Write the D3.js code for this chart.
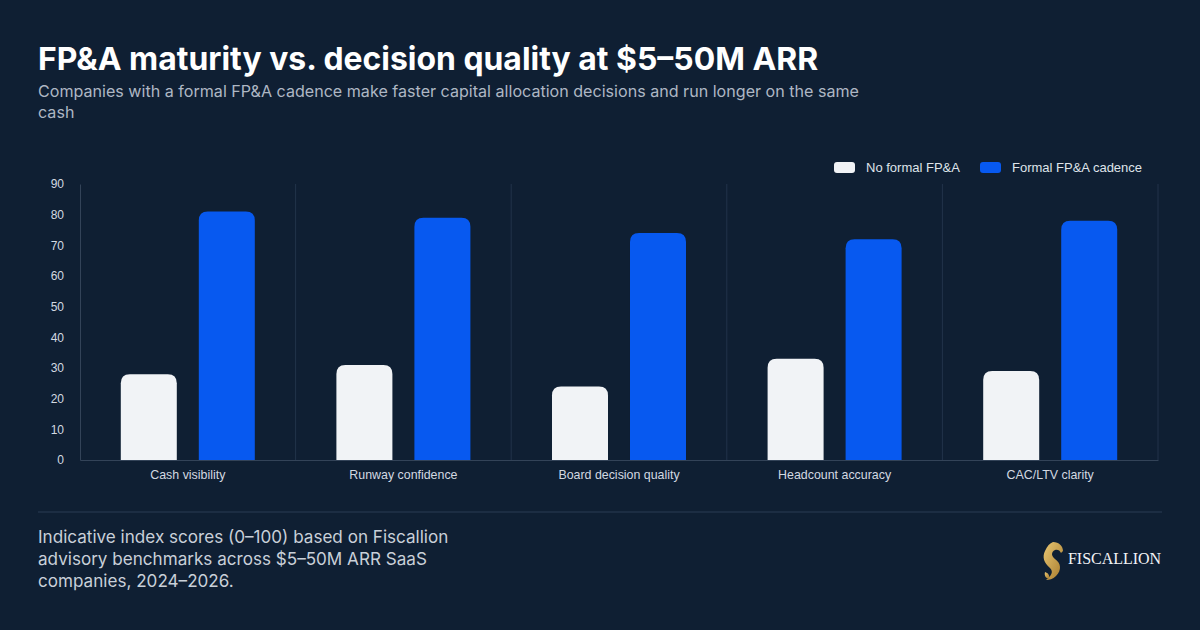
<!DOCTYPE html>
<html>
<head>
<meta charset="utf-8">
<script src="https://cdn.jsdelivr.net/npm/d3@7"></script>
<style>
  html, body { margin: 0; padding: 0; background: #0f1f33; }
  svg { display: block; }
</style>
</head>
<body>
<div class="chart"></div>
<script>
var width = 1200;
var height = 630;
var margin = { top: 184, left: 80, right: 42, bottom: 170 };

var categories = ["Cash visibility", "Runway confidence", "Board decision quality", "Headcount accuracy", "CAC/LTV clarity"];
var seriesNames = ["No formal FP&A", "Formal FP&A cadence"];
var noFormal = [28, 31, 24, 33, 29];
var formal = [81, 79, 74, 72, 78];
var yTicks = [0, 10, 20, 30, 40, 50, 60, 70, 80, 90];
var colors = ["#f1f3f6", "#0759f0"];

var svg = d3.select(".chart")
    .append("svg")
    .attr("width", width)
    .attr("height", height);

svg.append("rect").attr("width", width).attr("height", height).attr("fill", "#0f1f33");

// title + subtitle
svg.append("text")
    .attr("x", 38).attr("y", 70)
    .attr("fill", "#ffffff")
    .style("font", "700 31.9px Inter")
    .text("FP&A maturity vs. decision quality at $5–50M ARR");

var sub = svg.append("text")
    .attr("x", 38).attr("y", 97)
    .attr("fill", "#aeb7c4")
    .style("font", "400 16.1px Inter");
sub.append("tspan").attr("x", 38).text("Companies with a formal FP&A cadence make faster capital allocation decisions and run longer on the same");
sub.append("tspan").attr("x", 38).attr("dy", 21).text("cash");

var x0 = d3.scaleBand()
    .domain(categories)
    .range([margin.left, width - margin.right]);

var x1 = d3.scaleBand()
    .domain(seriesNames)
    .range([0, x0.bandwidth()])
    .paddingInner(0.282)
    .paddingOuter(0.523);

var y = d3.scaleLinear()
    .domain([0, 90])
    .range([height - margin.bottom, margin.top]);

// category separators
svg.append("g").selectAll("line")
    .data(categories.slice(1))
    .enter().append("line")
    .attr("x1", function(d){return x0(d);})
    .attr("x2", function(d){return x0(d);})
    .attr("y1", y(90)).attr("y2", y(0))
    .attr("stroke", "#22334a").attr("stroke-width", 1);
svg.append("line")
    .attr("x1", width - margin.right).attr("x2", width - margin.right)
    .attr("y1", y(90)).attr("y2", y(0))
    .attr("stroke", "#22334a");

// y axis
var yAxis = svg.append("g")
    .attr("transform", `translate(${margin.left},0)`)
    .call(d3.axisLeft(y).tickValues(yTicks).tickSize(0).tickPadding(16));
yAxis.select(".domain").attr("stroke", "#334358");
yAxis.selectAll("text")
    .attr("fill", "#d3d9e1")
    .style("font", "12px 'Liberation Sans', Arial, sans-serif");

// x axis
var xAxis = svg.append("g")
    .attr("transform", `translate(0,${y(0)})`)
    .call(d3.axisBottom(x0).tickSize(0).tickPadding(10));
xAxis.select(".domain").attr("stroke", "#334358");
xAxis.selectAll("text")
    .attr("fill", "#d3d9e1")
    .style("font", "12.4px 'Liberation Sans', Arial, sans-serif");

function topRounded(x, yTop, w, h, r) {
    r = Math.min(r, h, w / 2);
    return "M" + x + "," + (yTop + h) +
        "V" + (yTop + r) +
        "Q" + x + "," + yTop + " " + (x + r) + "," + yTop +
        "H" + (x + w - r) +
        "Q" + (x + w) + "," + yTop + " " + (x + w) + "," + (yTop + r) +
        "V" + (yTop + h) + "Z";
}

var rows = categories.map(function(c, i) {
    return { cat: c, vals: [noFormal[i], formal[i]] };
});

var groups = svg.append("g").selectAll("g")
    .data(rows)
    .enter().append("g")
    .attr("transform", function(d){return `translate(${x0(d.cat)},0)`;});

groups.selectAll("path")
    .data(function(d){return d.vals.map(function(v, j){return {s: seriesNames[j], v: v, j: j};});})
    .enter().append("path")
    .attr("d", function(d){
        return topRounded(x1(d.s), y(d.v), x1.bandwidth(), y(0) - y(d.v), 9);
    })
    .attr("fill", function(d){return colors[d.j];});

// legend
var legendX = [834, 980];
var legend = svg.append("g").selectAll("g")
    .data(seriesNames)
    .enter().append("g")
    .attr("transform", function(d, i){return `translate(${legendX[i]},162)`;});
legend.append("rect")
    .attr("width", 21).attr("height", 11).attr("rx", 3)
    .attr("fill", function(d, i){return colors[i];});
legend.append("text")
    .attr("x", 32).attr("y", 10)
    .attr("fill", "#dfe4ea")
    .style("font", "13px 'Liberation Sans', Arial, sans-serif")
    .text(function(d){return d;});

// footer
svg.append("line")
    .attr("x1", 38).attr("x2", 1162)
    .attr("y1", 512).attr("y2", 512)
    .attr("stroke", "#22334a").attr("stroke-width", 1.5);

var foot = svg.append("text")
    .attr("x", 38).attr("y", 543)
    .attr("fill", "#c9d0d9")
    .style("font", "400 17.1px Inter");
["Indicative index scores (0–100) based on Fiscallion",
 "advisory benchmarks across $5–50M ARR SaaS",
 "companies, 2024–2026."].forEach(function(t, i){
    foot.append("tspan").attr("x", 38).attr("dy", i ? 22 : 0).text(t);
});

// logo
var grad = svg.append("defs").append("linearGradient")
    .attr("id", "gold").attr("x1", 0).attr("y1", 0).attr("x2", 1).attr("y2", 1);
grad.append("stop").attr("offset", "0%").attr("stop-color", "#e9c773");
grad.append("stop").attr("offset", "100%").attr("stop-color", "#a67a2c");

var logo = svg.append("g").attr("transform", "translate(1041,542)");
logo.append("path")
    .attr("d", "M12,0 C18,0 22,4 22,9 L20,11 C19,8 16,7 14,8 C10,10 10,14 14,17 C20,21 21,28 15,34 C12,37 8,38 5,38 C10,34 13,30 9,26 C3,21 1,15 4,9 C6,4 9,1 12,0 Z")
    .attr("fill", "url(#gold)");
logo.append("path")
    .attr("d", "M4,30 C7,31 9,33 8,37 C5,36 3,34 4,30 Z")
    .attr("fill", "url(#gold)");
svg.append("text")
    .attr("x", 1068).attr("y", 564)
    .attr("fill", "#f3f4f6")
    .attr("textLength", 93)
    .style("font", "400 16px 'Liberation Serif', 'DejaVu Serif', serif")
    .text("FISCALLION");
</script>
</body>
</html>
